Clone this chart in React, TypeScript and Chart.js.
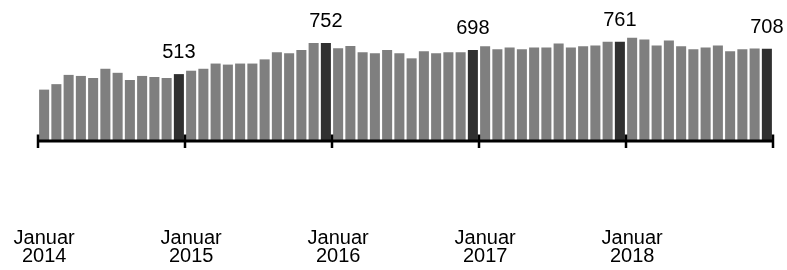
import React, { useEffect, useRef } from "react";
import { Chart, registerables } from "chart.js";

Chart.register(...registerables);

const years = ["2014", "2015", "2016", "2017", "2018"];
const months = [
  "Januar", "Februar", "März", "April", "Mai", "Juni",
  "Juli", "August", "September", "Oktober", "November", "Dezember",
];

const values2014 = [394, 436, 507, 499, 483, 554, 523, 468, 499, 491, 483, 513];
const values2015 = [539, 554, 594, 586, 594, 594, 626, 681, 673, 697, 752, 752];
const values2016 = [712, 728, 681, 673, 697, 673, 634, 689, 673, 681, 681, 698];
const values2017 = [726, 703, 718, 703, 718, 718, 748, 718, 726, 733, 761, 761];
const values2018 = [792, 778, 733, 770, 726, 703, 718, 733, 689, 703, 710, 708];

const yearValues = [values2014, values2015, values2016, values2017, values2018];

const categories: string[] = [];
const values: number[] = [];
years.forEach((y, yi) => {
  months.forEach((m, mi) => {
    categories.push(`${m} ${y}`);
    values.push(yearValues[yi][mi]);
  });
});

const isDecember = (i: number) => i % 12 === 11;

const FONT = "'Liberation Sans', Arial, sans-serif";

const axisPlugin = {
  id: "yearAxis",
  afterDatasetsDraw(chart: any) {
    const { ctx } = chart;
    const xs = chart.scales.x;
    const ys = chart.scales.y;
    const y0 = ys.getPixelForValue(0);
    const step = xs.getPixelForValue(1) - xs.getPixelForValue(0);
    const left = xs.getPixelForValue(0) - step / 2;
    const right = xs.getPixelForValue(categories.length - 1) + step / 2;
    ctx.save();
    ctx.strokeStyle = "#000";
    ctx.lineWidth = 3;
    ctx.beginPath();
    ctx.moveTo(left, y0);
    ctx.lineTo(right, y0);
    ctx.stroke();
    ctx.lineWidth = 2.5;
    for (let i = 0; i <= categories.length; i += 12) {
      const x = left + i * step;
      ctx.beginPath();
      ctx.moveTo(x, y0 - 6.5);
      ctx.lineTo(x, y0 + 7);
      ctx.stroke();
    }
    ctx.restore();
  },
};

const labelPlugin = {
  id: "decLabels",
  afterDatasetsDraw(chart: any) {
    const { ctx } = chart;
    const meta = chart.getDatasetMeta(0);
    ctx.save();
    ctx.fillStyle = "#000";
    ctx.font = `20px ${FONT}`;
    ctx.textAlign = "center";
    ctx.textBaseline = "alphabetic";
    meta.data.forEach((bar: any, i: number) => {
      if (!isDecember(i)) return;
      ctx.fillText(String(values[i]), bar.x, bar.y - 16);
    });
    ctx.restore();
  },
};

export default function App() {
  const ref = useRef<HTMLCanvasElement | null>(null);

  useEffect(() => {
    if (!ref.current) return;
    const chart = new Chart(ref.current, {
      type: "bar",
      data: {
        labels: categories,
        datasets: [
          {
            data: values,
            backgroundColor: values.map((_, i) => (isDecember(i) ? "#303030" : "#7f7f7f")),
            borderWidth: 0,
            barPercentage: 0.82,
            categoryPercentage: 1,
          },
        ],
      },
      options: {
        animation: false,
        responsive: true,
        maintainAspectRatio: false,
        layout: { padding: { left: 38, right: 14, top: 20, bottom: 8 } },
        plugins: {
          legend: { display: false },
          tooltip: { enabled: false },
        },
        scales: {
          x: {
            offset: true,
            grid: {
              display: true,
              drawOnChartArea: false,
              drawTicks: true,
              tickLength: 88,
              color: "rgba(0,0,0,0)",
            },
            border: { display: false },
            ticks: {
              autoSkip: false,
              maxRotation: 0,
              minRotation: 0,
              padding: 0,
              color: "#000",
              font: { family: FONT, size: 20, lineHeight: 0.92 },
              callback: (_v: any, i: number) =>
                i % 12 === 0 ? [months[0], years[Math.floor(i / 12)]] : "",
            },
          },
          y: {
            display: false,
            min: 0,
            max: 928,
          },
        },
      },
      plugins: [axisPlugin, labelPlugin],
    });
    return () => chart.destroy();
  }, []);

  return (
    <div style={{ position: "fixed", left: 0, top: 0, width: 787, height: 270 }}>
      <canvas ref={ref} />
    </div>
  );
}
